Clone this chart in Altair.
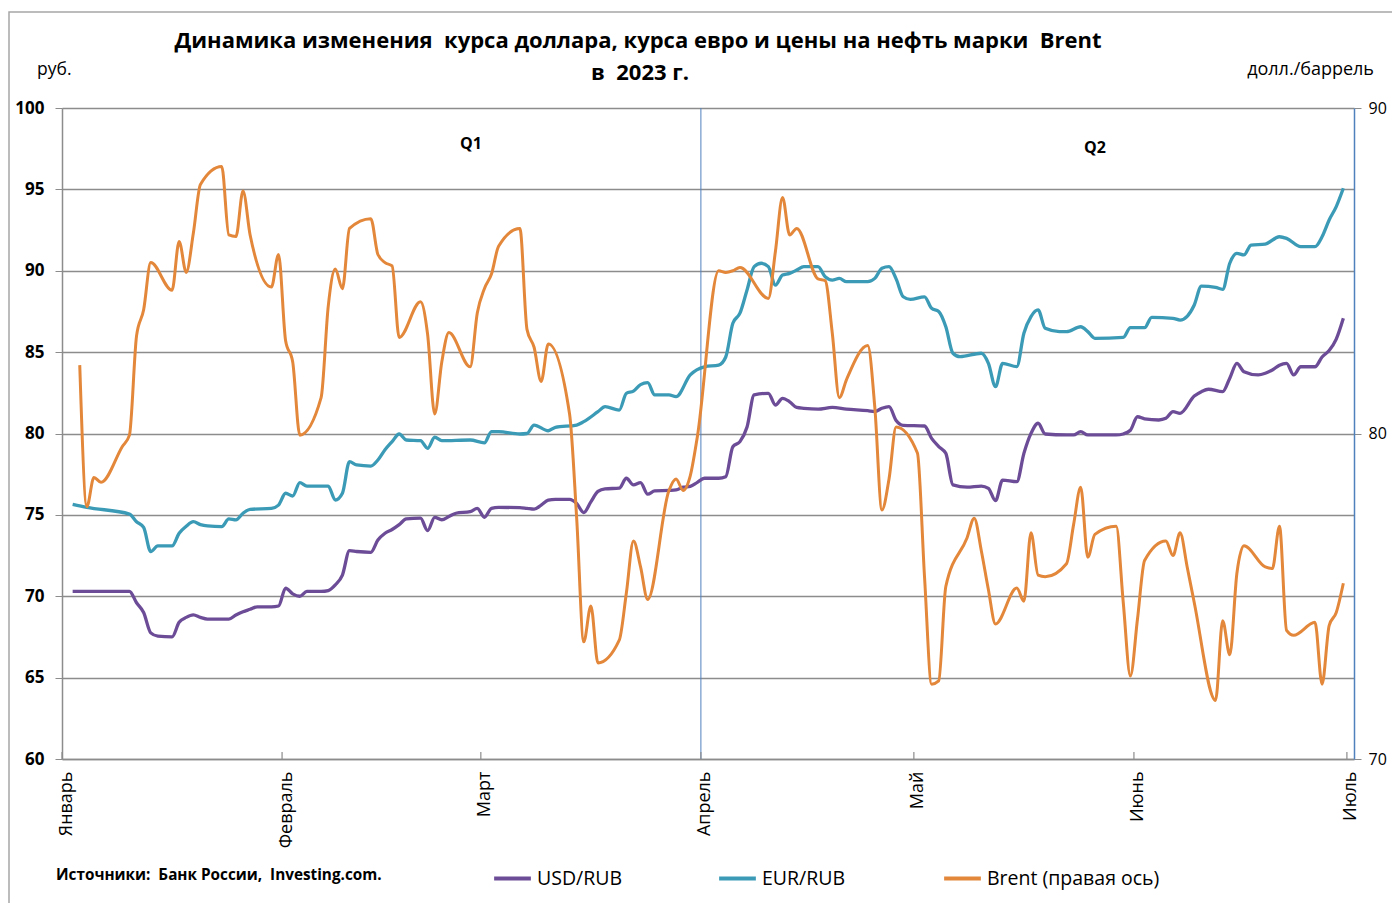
import json
from datetime import datetime, timezone
import altair as alt
import pandas as pd

FONT = "Open Sans"
GRID = "#8C8C8C"
BLUE = "#4F81BD"

MONTHS = ["Январь", "Февраль", "Март", "Апрель", "Май", "Июнь", "Июль"]
SERIES = ["USD/RUB", "EUR/RUB", "Brent (правая ось)"]
COLORS = ["#6C4C97", "#3B9BB6", "#E3873A"]
QUARTER_BOUNDS = ["2023-04-01"]

brent_dates = ["01-03", "01-04", "01-05", "01-06", "01-09", "01-10", "01-11", "01-12", "01-13", "01-16",
               "01-17", "01-18", "01-19", "01-20", "01-23", "01-24", "01-25", "01-26", "01-27", "01-30",
               "01-31", "02-01", "02-02", "02-03", "02-06", "02-07", "02-08", "02-09", "02-10", "02-13",
               "02-14", "02-15", "02-16", "02-17", "02-20", "02-21", "02-22", "02-23", "02-24", "02-27",
               "02-28", "03-01", "03-02", "03-03", "03-06", "03-07", "03-08", "03-09", "03-10", "03-13",
               "03-14", "03-15", "03-16", "03-17", "03-20", "03-21", "03-22", "03-23", "03-24", "03-27",
               "03-28", "03-29", "03-30", "03-31", "04-03", "04-04", "04-05", "04-06", "04-10", "04-11",
               "04-12", "04-13", "04-14", "04-17", "04-18", "04-19", "04-20", "04-21", "04-24", "04-25",
               "04-26", "04-27", "04-28", "05-01", "05-02", "05-03", "05-04", "05-05", "05-08", "05-09",
               "05-10", "05-11", "05-12", "05-15", "05-16", "05-17", "05-18", "05-19", "05-22", "05-23",
               "05-24", "05-25", "05-26", "05-29", "05-30", "05-31", "06-01", "06-02", "06-05", "06-06",
               "06-07", "06-08", "06-09", "06-12", "06-13", "06-14", "06-15", "06-16", "06-19", "06-20",
               "06-21", "06-22", "06-23", "06-26", "06-27", "06-28", "06-29", "06-30"]
brent_values = [82.1, 77.75, 78.65, 78.5, 79.6, 79.95, 83.0, 83.8, 85.25, 84.4,
                85.9, 84.95, 86.15, 87.65, 88.2, 86.1, 86.05, 87.45, 86.1, 84.5,
                85.5, 82.85, 82.2, 79.95, 81.1, 83.9, 85.05, 84.45, 86.3, 86.6,
                85.5, 85.25, 85.15, 82.95, 84.05, 83.05, 80.6, 82.2, 83.1, 82.05,
                83.7, 84.45, 84.9, 85.75, 86.3, 83.2, 82.65, 81.6, 82.75, 80.6,
                77.4, 73.6, 74.7, 72.95, 73.65, 75.1, 76.7, 75.9, 74.9, 78.25,
                78.6, 78.25, 78.7, 79.9, 85.0, 84.95, 85.0, 85.1, 84.15, 85.6,
                87.25, 86.1, 86.3, 84.75, 84.7, 83.1, 81.1, 81.65, 82.7, 80.8,
                77.65, 78.6, 80.2, 79.4, 75.6, 72.3, 72.4, 75.3, 76.8, 77.4,
                76.4, 75.2, 74.15, 75.25, 74.85, 76.95, 75.65, 75.6, 76.0, 77.2,
                78.35, 76.2, 76.9, 77.15, 74.8, 72.55, 74.3, 76.1, 76.7, 76.25,
                76.95, 75.9, 74.8, 71.8, 74.25, 73.2, 75.7, 76.55, 75.9, 75.85,
                77.15, 73.95, 73.8, 74.2, 72.3, 74.1, 74.5, 75.4]

usd_dates = ["01-02", "01-10", "01-11", "01-12", "01-13", "01-14", "01-16", "01-17", "01-18", "01-19",
             "01-20", "01-21", "01-23", "01-24", "01-25", "01-26", "01-27", "01-28", "01-30", "01-31",
             "02-01", "02-02", "02-03", "02-04", "02-06", "02-07", "02-08", "02-09", "02-10", "02-11",
             "02-13", "02-14", "02-15", "02-16", "02-17", "02-18", "02-20", "02-21", "02-22", "02-23",
             "02-24", "02-25", "02-27", "02-28", "03-01", "03-02", "03-03", "03-06", "03-07", "03-08",
             "03-09", "03-10", "03-11", "03-13", "03-14", "03-15", "03-16", "03-17", "03-18", "03-20",
             "03-21", "03-22", "03-23", "03-24", "03-25", "03-27", "03-28", "03-29", "03-30", "03-31",
             "04-01", "04-03", "04-04", "04-05", "04-06", "04-07", "04-08", "04-10", "04-11", "04-12",
             "04-13", "04-14", "04-15", "04-17", "04-19", "04-21", "04-24", "04-25", "04-26", "04-27",
             "04-28", "04-29", "05-02", "05-03", "05-04", "05-05", "05-06", "05-08", "05-10", "05-11",
             "05-12", "05-13", "05-15", "05-16", "05-17", "05-18", "05-19", "05-22", "05-23", "05-24",
             "05-25", "05-29", "05-30", "05-31", "06-01", "06-02", "06-04", "06-05", "06-06", "06-07",
             "06-09", "06-10", "06-11", "06-13", "06-14", "06-15", "06-16", "06-18", "06-19", "06-20",
             "06-21", "06-22", "06-23", "06-24", "06-26", "06-27", "06-28", "06-29", "06-30"]
usd_values = [70.3, 70.3, 69.6, 69.0, 67.75, 67.55, 67.5, 68.4, 68.7, 68.85,
              68.7, 68.6, 68.6, 68.6, 68.85, 69.05, 69.2, 69.35, 69.35, 69.4,
              70.5, 70.15, 70.0, 70.3, 70.3, 70.35, 70.7, 71.3, 72.8, 72.75,
              72.7, 73.45, 73.87, 74.1, 74.4, 74.75, 74.8, 74.03, 74.85, 74.7,
              74.9, 75.1, 75.2, 75.4, 74.85, 75.4, 75.46, 75.45, 75.4, 75.35,
              75.6, 75.9, 75.95, 75.95, 75.7, 75.14, 75.8, 76.44, 76.6, 76.64,
              77.25, 76.84, 76.98, 76.27, 76.47, 76.5, 76.53, 76.7, 76.75, 77.0,
              77.25, 77.25, 77.35, 79.19, 79.5, 80.4, 82.37, 82.47, 81.75, 82.16,
              81.95, 81.6, 81.55, 81.5, 81.6, 81.5, 81.4, 81.35, 81.55, 81.65,
              80.8, 80.5, 80.46, 79.7, 79.2, 78.78, 76.84, 76.7, 76.77, 76.63,
              75.87, 77.14, 77.04, 78.78, 80.01, 80.63, 79.97, 79.91, 79.91, 80.11,
              79.91, 79.91, 79.97, 80.2, 81.03, 80.9, 80.83, 80.93, 81.34, 81.24,
              82.3, 82.57, 82.72, 82.57, 83.4, 84.31, 83.8, 83.6, 83.7, 83.9,
              84.2, 84.31, 83.6, 84.1, 84.1, 84.7, 85.1, 85.8, 87.08]

eur_dates = ["01-02", "01-04", "01-10", "01-11", "01-12", "01-13", "01-14", "01-16", "01-17", "01-18",
             "01-19", "01-20", "01-21", "01-23", "01-24", "01-25", "01-26", "01-27", "01-30", "01-31",
             "02-01", "02-02", "02-03", "02-04", "02-07", "02-08", "02-09", "02-10", "02-11", "02-13",
             "02-14", "02-15", "02-16", "02-17", "02-18", "02-20", "02-21", "02-22", "02-23", "02-27",
             "03-01", "03-02", "03-03", "03-06", "03-07", "03-08", "03-10", "03-11", "03-14", "03-15",
             "03-17", "03-18", "03-20", "03-21", "03-22", "03-23", "03-24", "03-25", "03-27", "03-28",
             "03-30", "04-01", "04-03", "04-04", "04-05", "04-06", "04-07", "04-08", "04-09", "04-10",
             "04-11", "04-12", "04-13", "04-14", "04-15", "04-17", "04-18", "04-19", "04-20", "04-21",
             "04-24", "04-25", "04-26", "04-27", "04-28", "04-29", "04-30", "05-02", "05-03", "05-04",
             "05-05", "05-06", "05-07", "05-10", "05-11", "05-12", "05-13", "05-15", "05-16", "05-17",
             "05-18", "05-19", "05-21", "05-22", "05-24", "05-25", "05-26", "05-30", "05-31", "06-01",
             "06-02", "06-03", "06-06", "06-07", "06-09", "06-10", "06-12", "06-13", "06-14", "06-15",
             "06-16", "06-17", "06-19", "06-21", "06-22", "06-24", "06-26", "06-27", "06-28", "06-29",
             "06-30"]
eur_values = [75.65, 75.46, 75.05, 74.58, 74.23, 72.74, 73.09, 73.09, 73.87, 74.3,
              74.58, 74.4, 74.32, 74.28, 74.75, 74.69, 75.1, 75.34, 75.4, 75.6,
              76.33, 76.16, 76.98, 76.77, 76.77, 75.91, 76.33, 78.27, 78.07, 78.0,
              78.37, 79.0, 79.5, 79.97, 79.6, 79.56, 79.09, 79.77, 79.56, 79.6,
              79.43, 80.11, 80.11, 79.97, 80.0, 80.52, 80.17, 80.38, 80.52, 80.73,
              81.34, 81.65, 81.44, 82.47, 82.6, 83.0, 83.12, 82.37, 82.37, 82.26,
              83.6, 84.1, 84.2, 84.7, 86.77, 87.39, 88.82, 90.25, 90.46, 90.25,
              89.12, 89.74, 89.84, 90.04, 90.25, 90.25, 89.63, 89.43, 89.53, 89.33,
              89.33, 89.53, 90.15, 90.25, 89.5, 88.4, 88.24, 88.4, 87.69, 87.5,
              86.56, 84.93, 84.72, 84.93, 84.31, 82.88, 84.31, 84.11, 86.16, 87.18,
              87.59, 86.46, 86.26, 86.26, 86.56, 86.26, 85.85, 85.91, 86.5, 86.5,
              86.5, 87.14, 87.08, 86.97, 87.9, 89.06, 88.98, 88.86, 90.46, 91.07,
              90.97, 91.58, 91.64, 92.09, 91.99, 91.48, 91.48, 92.09, 93.12, 93.94,
              95.07]


def ms(day):
    return int(datetime.strptime(day, "%Y-%m-%d").replace(tzinfo=timezone.utc).timestamp() * 1000)


rows = []
for name, dates, vals in [(SERIES[0], usd_dates, usd_values),
                          (SERIES[1], eur_dates, eur_values),
                          (SERIES[2], brent_dates, brent_values)]:
    for d, v in zip(dates, vals):
        rows.append({"date": "2023-" + d, "value": v, "series": name})
df = pd.DataFrame(rows)

month_starts = [f"2023-{m:02d}-01" for m in range(1, 8)]
month_ms = [ms(m) for m in month_starts]
x_domain = [ms("2023-01-01"), ms("2023-07-02")]
label_expr = json.dumps(MONTHS, ensure_ascii=False) + "[utcmonth(datum.value)]"

W, H = 1292, 651

x_enc = alt.X(
    "t:T",
    scale=alt.Scale(type="utc", domain=x_domain, nice=False),
    axis=alt.Axis(values=month_ms, labelExpr=label_expr, labelAngle=-90, ticks=False, grid=False,
                  domainColor=GRID, domainWidth=1.5, labelFontSize=18, labelColor="black",
                  labelPadding=12, labelOffset=4, labelOverlap=False, labelFlush=False,
                  labelBound=False, title=None),
)

color_enc = alt.Color(
    "series:N",
    scale=alt.Scale(domain=SERIES, range=COLORS),
    legend=alt.Legend(orient="none", legendX=430, legendY=750, direction="horizontal", columns=3,
                      gridAlign="all", columnPadding=1, title=None, symbolType="stroke",
                      symbolSize=1350, symbolStrokeWidth=4, labelFontSize=19.5, labelOffset=4,
                      labelColor="black", labelLimit=400),
)

base = alt.Chart(df).transform_calculate(t="toDate(datum.date) + 43200000")

rub_lines = base.transform_filter(
    alt.FieldOneOfPredicate(field="series", oneOf=SERIES[:2])
).mark_line(strokeWidth=3.3, interpolate="monotone").encode(
    x=x_enc,
    y=alt.Y("value:Q", scale=alt.Scale(domain=[60, 100], nice=False, zero=False),
            axis=alt.Axis(values=list(range(60, 101, 5)), grid=True, gridColor=GRID, gridWidth=1.5,
                          domainColor=GRID, domainWidth=1.5, tickColor=GRID, tickSize=7,
                          labelFontSize=17, labelFontWeight="bold", labelColor="black",
                          labelPadding=11, title=None)),
    color=color_enc,
    detail="series:N",
)

brent_line = base.transform_filter(
    alt.FieldEqualPredicate(field="series", equal=SERIES[2])
).mark_line(strokeWidth=3.0, interpolate="monotone").encode(
    x=x_enc,
    y=alt.Y("value:Q", scale=alt.Scale(domain=[70, 90], nice=False, zero=False),
            axis=alt.Axis(orient="right", values=[70, 80, 90], grid=False, domainColor=BLUE,
                          domainWidth=1.5, tickColor=GRID, tickSize=7, labelFontSize=16,
                          labelColor="black", labelPadding=7, title=None)),
    color=color_enc,
)

month_ticks = alt.Chart(pd.DataFrame({"date": month_starts})).transform_calculate(
    t="toDate(datum.date)"
).mark_rule(color=GRID, strokeWidth=1.2).encode(x=x_enc, y=alt.value(H - 7), y2=alt.value(H))

quarter_rule = alt.Chart(pd.DataFrame({"date": QUARTER_BOUNDS})).transform_calculate(
    t="toDate(datum.date)"
).mark_rule(color=BLUE, strokeWidth=1).encode(x=x_enc, y=alt.value(0), y2=alt.value(H))

frame = alt.Chart(pd.DataFrame({"k": [0]})).mark_rect(
    filled=False, stroke="#A6A6A6", strokeWidth=1.5
).encode(x=alt.value(-53), x2=alt.value(1400), y=alt.value(-96), y2=alt.value(900))


def label(text, x, y, size, weight="normal", align="left"):
    return alt.Chart(pd.DataFrame({"txt": [text]})).mark_text(
        align=align, baseline="middle", fontSize=size, fontWeight=weight, font=FONT, color="black"
    ).encode(x=alt.value(x), y=alt.value(y), text="txt:N")


texts = [
    label("Динамика изменения \u00a0курса доллара, курса евро и цены на нефть марки \u00a0Brent",
          576, -67, 22, "bold", "center"),
    label("в \u00a02023 г.", 578, -35, 22, "bold", "center"),
    label("руб.", -25, -38, 17.5),
    label("долл./баррель", 1312, -38, 18, "normal", "right"),
    label("Q1", 409, 36, 16, "bold", "center"),
    label("Q2", 1033, 40, 16, "bold", "center"),
    label("Источники: \u00a0Банк России, \u00a0Investing.com.", -6, 767, 15.3, "bold"),
]

chart = alt.layer(
    frame, quarter_rule, month_ticks, rub_lines, brent_line, *texts
).resolve_scale(y="independent").properties(
    width=W, height=H,
    padding={"left": 54, "top": 100, "right": 38, "bottom": 144},
    autosize=alt.AutoSizeParams(type="none"),
).configure_view(stroke=None).configure(font=FONT, background="white")

chart.save("out.html", embed_options={"renderer": "svg", "actions": False})
